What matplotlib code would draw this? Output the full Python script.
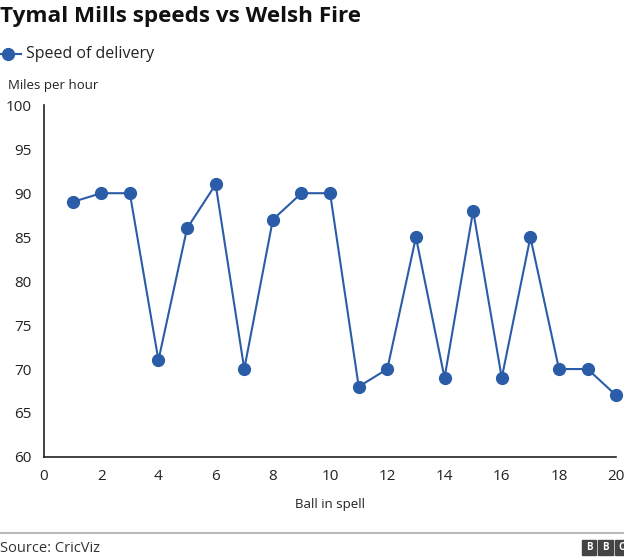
import matplotlib.pyplot as plt
from matplotlib.patches import Rectangle
from matplotlib.lines import Line2D

# ball number and speed (mph)
balls = list(range(1, 21))
speeds = [89, 90, 90, 71, 86, 91, 70, 87, 90, 90,
          68, 70, 85, 69, 88, 69, 85, 70, 70, 67]
xticks = list(range(0, 21, 2))
yticks = list(range(60, 101, 5))

blue = '#2a5ca8'
plt.rcParams['font.family'] = ['Open Sans', 'DejaVu Sans']

fig = plt.figure(figsize=(6.24, 5.6), dpi=100)
ax = fig.add_axes([0.0705, 0.184, 0.917, 0.628])

ax.plot(balls, speeds, color=blue, lw=1.5, marker='o', markersize=8.5, clip_on=False)
ax.set_xlim(0, 20)
ax.set_ylim(60, 100)
ax.set_xticks(xticks)
ax.set_yticks(yticks)
ax.tick_params(axis='both', length=0, labelsize=11, colors='#222222', pad=9)
for s in ['top', 'right']:
    ax.spines[s].set_visible(False)
for s in ['left', 'bottom']:
    ax.spines[s].set_color('#222222')
    ax.spines[s].set_linewidth(1.2)
ax.set_xlabel('Ball in spell', fontsize=9.5, color='#222222', labelpad=10)

# title + legend
fig.text(0.0, 0.97, 'Tymal Mills speeds vs Welsh Fire', fontsize=16.2, fontweight='bold',
         va='center', ha='left', color='#111111')
fig.lines.append(Line2D([0.0, 0.033], [0.904, 0.904], color=blue, lw=1.5,
                        transform=fig.transFigure))
fig.lines.append(Line2D([0.0135], [0.904], color=blue, marker='o', markersize=8.5,
                        transform=fig.transFigure))
fig.text(0.041, 0.904, 'Speed of delivery', fontsize=11.5, va='center', ha='left', color='#222222')
fig.text(0.013, 0.848, 'Miles per hour', fontsize=9.5, va='center', ha='left', color='#222222')

# footer
fig.lines.append(Line2D([0, 1], [0.048, 0.048], color='#bbbbbb', lw=1.5,
                        transform=fig.transFigure))
fig.text(0.0, 0.02, 'Source: CricViz', fontsize=10.5, va='center', ha='left', color='#333333')

w = 0.0235
for i, ch in enumerate('BBC'):
    x0 = 0.932 + i * (w + 0.003)
    fig.patches.append(Rectangle((x0, 0.009), w, 0.026, color='#444444',
                                 transform=fig.transFigure))
    fig.text(x0 + w / 2, 0.022, ch, fontsize=7, fontweight='bold', color='white',
             ha='center', va='center')

fig.savefig('out.png', dpi=100)
